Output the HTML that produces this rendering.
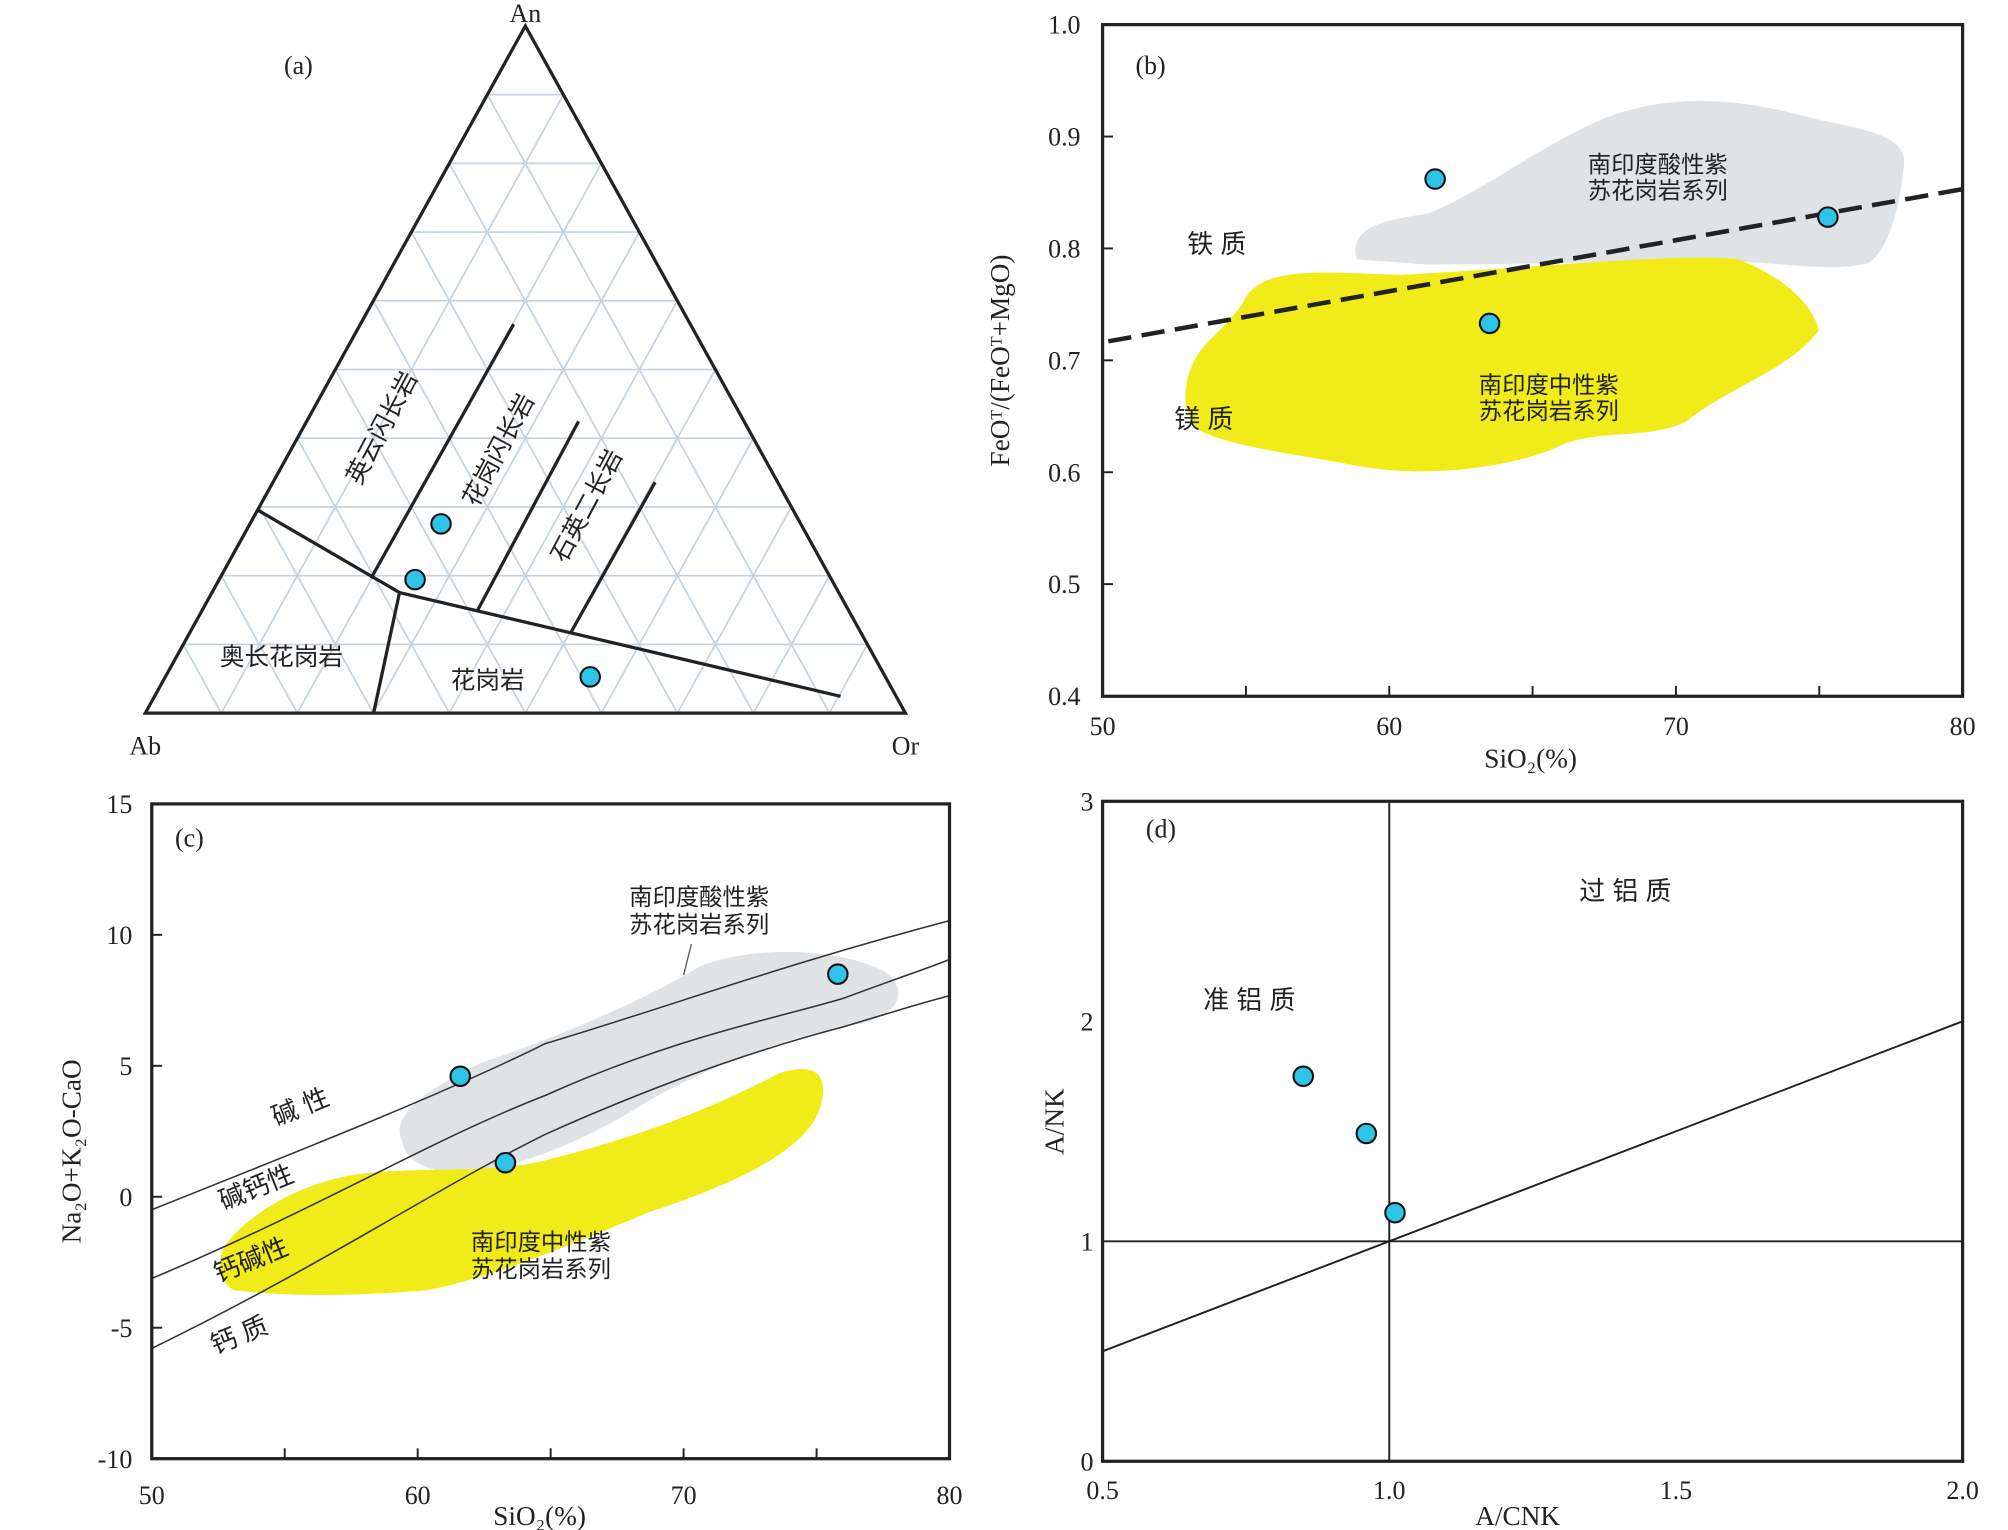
<!DOCTYPE html>
<html><head><meta charset="utf-8"><style>
html,body{margin:0;padding:0;background:#fff;}
svg{display:block;}
text{font-family:"Liberation Serif","Noto Serif CJK SC",serif;fill:#222;}
.cn{font-family:"Liberation Sans","Noto Sans CJK SC",sans-serif;}
</style></head><body>
<svg id="chart" width="2008" height="1530" viewBox="0 0 1548 1180" preserveAspectRatio="none" xmlns="http://www.w3.org/2000/svg">
<g id="pa"></g>
<g id="pb"></g>
<g id="pc"></g>
<g id="pd"></g>
</svg>
<script>
// ---- data ----
const bXTicks=[50,60,70,80];
const bYTicks=[0.4,0.5,0.6,0.7,0.8,0.9,1.0];
const bSiO2=[61.6,63.5,75.3];
const bFe=[0.862,0.733,0.828];
const bLineX=[50.2,80];
const bLineY=[0.717,0.853];
const cXTicks=[50,60,70,80];
const cYTicks=[-10,-5,0,5,10,15];
const cSiO2=[61.6,63.3,75.8];
const cMALI=[4.6,1.3,8.5];
const dXTicks=[0.5,1.0,1.5,2.0];
const dYTicks=[0,1,2,3];
const dACNK=[0.85,0.96,1.01];
const dANK=[1.75,1.49,1.13];
const aPts=[[340,404],[320,447],[455,522]];

const NS="http://www.w3.org/2000/svg";
function mk(p,tag,at,name){const e=document.createElementNS(NS,tag);for(const k in at)e.setAttribute(k,at[k]);


p.appendChild(e);return e;}
function txt(p,x,y,s,size,name,anchor,cls,rot){const t=mk(p,'text',{x:x,y:y,'font-size':size,'text-anchor':anchor||'middle'},name);if(cls)t.setAttribute('class',cls);if(rot)t.setAttribute('transform','rotate('+rot+' '+x+' '+y+')');t.textContent=s;return t;}
function dot(p,x,y,name){mk(p,'circle',{cx:x,cy:y,r:7.5,fill:'#2ec4e8',stroke:'#111','stroke-width':1.6},name);}

// ---- panel a ----
const A=document.getElementById('pa');
const Ab=[112,550],Or=[698,550],An=[405,20];
function tp(a,b,c){return [a*Ab[0]+b*Or[0]+c*An[0],a*Ab[1]+b*Or[1]+c*An[1]];}
for(let i=1;i<10;i++){const f=i/10;
 let p=tp(1-f,0,f),q=tp(0,1-f,f);mk(A,'line',{x1:p[0],y1:p[1],x2:q[0],y2:q[1],stroke:'#c3d2de','stroke-width':1.3},'grid-line');
 p=tp(f,0,1-f);q=tp(f,1-f,0);mk(A,'line',{x1:p[0],y1:p[1],x2:q[0],y2:q[1],stroke:'#c3d2de','stroke-width':1.3},'grid-line');
 p=tp(0,f,1-f);q=tp(1-f,f,0);mk(A,'line',{x1:p[0],y1:p[1],x2:q[0],y2:q[1],stroke:'#c3d2de','stroke-width':1.3},'grid-line');}
mk(A,'polygon',{points:Ab.join(',')+' '+Or.join(',')+' '+An.join(','),fill:'none',stroke:'#222','stroke-width':2.5},'triangle-outline');
[[[198,393],[308,457],[648,537]],[[308,457],[288,550]],[[286,446],[396,250]],[[368,471],[446,325]],[[440,488],[505,372]]].forEach(l=>{
 mk(A,'polyline',{points:l.map(p=>p.join(',')).join(' '),fill:'none',stroke:'#222','stroke-width':2.5},'field-boundary');});
aPts.forEach(p=>dot(A,p[0],p[1],'sample-point'));
txt(A,405,17,'An',20,'apex-an');txt(A,112,582,'Ab',20,'apex-ab');txt(A,698,582,'Or',20,'apex-or');
txt(A,230,57,'(a)',20,'panel-label-a');
txt(A,300,333,'英云闪长岩',19,'field-tonalite','middle','cn',-62);
txt(A,390,350,'花岗闪长岩',19,'field-granodiorite','middle','cn',-62);
txt(A,458,393,'石英二长岩',19,'field-qmonzonite','middle','cn',-62);
txt(A,217,513,'奥长花岗岩',19,'field-trondhjemite','middle','cn');
txt(A,376,531,'花岗岩',19,'field-granite','middle','cn');

// ---- panel b ----
const B=document.getElementById('pb');
const bx=v=>850+(v-50)*663/30, by=v=>19+(1-v)*863;
mk(B,'path',{d:'M1046,200 C1040,178 1060,170 1100,165 C1140,150 1190,110 1240,90 C1290,72 1340,75 1400,92 C1440,100 1468,105 1468,125 C1465,160 1455,195 1440,203 C1410,210 1380,203 1340,202 C1280,200 1200,204 1100,204 Z',fill:'#dfe3e6'},'acid-charnockite-field');
mk(B,'path',{d:'M960,230 C975,205 1020,210 1080,212 C1200,205 1300,195 1340,200 C1380,215 1400,240 1402,255 C1380,285 1330,300 1300,325 C1270,340 1230,330 1200,345 C1160,362 1100,368 1050,360 C1000,350 950,345 925,332 C905,315 915,280 930,265 C945,250 955,240 960,230 Z',fill:'#f2eb1a'},'intermediate-charnockite-field');
mk(B,'line',{x1:bx(bLineX[0]),y1:by(bLineY[0]),x2:bx(bLineX[1]),y2:by(bLineY[1]),stroke:'#222','stroke-width':3.5,'stroke-dasharray':'18,8'},'fe-mg-divider');
mk(B,'rect',{x:850,y:19,width:663,height:518,fill:'none',stroke:'#222','stroke-width':2.5},'plot-frame-b');
bXTicks.forEach(v=>txt(B,bx(v),567,String(v),20,'x-tick-b'));
for(let v=55;v<80;v+=5){mk(B,'line',{x1:bx(v),y1:537,x2:bx(v),y2:529,stroke:'#222','stroke-width':1.5},'x-tick-mark-b');}
bYTicks.forEach(v=>{txt(B,833,by(v)+7,v.toFixed(1),20,'y-tick-b','end');mk(B,'line',{x1:850,y1:by(v),x2:858,y2:by(v),stroke:'#222','stroke-width':1.5},'y-tick-mark-b');});
for(let i=0;i<3;i++)dot(B,bx(bSiO2[i]),by(bFe[i]),'sample-point-b');
txt(B,887,57,'(b)',20,'panel-label-b');
txt(B,1180,592,'SiO₂(%)',21,'x-axis-title-b');
txt(B,778,278,'FeOᵀ/(FeOᵀ+MgO)',21,'y-axis-title-b','middle','',-90);
txt(B,938,195,'铁  质',20,'label-ferroan','middle','cn');
txt(B,928,330,'镁  质',20,'label-magnesian','middle','cn');
txt(B,1278,133,'南印度酸性紫',18,'label-acid-1','middle','cn');
txt(B,1278,153,'苏花岗岩系列',18,'label-acid-2','middle','cn');
txt(B,1194,303,'南印度中性紫',18,'label-int-1','middle','cn');
txt(B,1194,323,'苏花岗岩系列',18,'label-int-2','middle','cn');

// ---- panel c ----
const C=document.getElementById('pc');
const cx=v=>117+(v-50)*615/30, cy=v=>620+(15-v)*505/25;
mk(C,'path',{d:'M310,880 C300,860 330,840 370,820 C430,800 500,770 540,745 C580,730 640,730 680,748 C705,765 690,785 660,790 C600,800 530,830 490,855 C450,880 400,900 360,905 C330,905 312,895 310,880 Z',fill:'#dfe3e6'},'acid-charnockite-field-c');
mk(C,'path',{d:'M178,955 C200,930 240,910 280,905 C330,900 380,905 420,895 C480,880 540,860 600,828 C630,818 640,830 632,855 C620,890 560,915 500,935 C440,960 380,985 330,995 C270,1000 220,1000 180,995 C165,985 168,965 178,955 Z',fill:'#f2eb1a'},'intermediate-charnockite-field-c');
mk(C,'path',{d:'M117,933 C250,880 350,840 420,805 C520,775 600,745 732,710',fill:'none',stroke:'#333','stroke-width':1.2},'alkali-boundary-line');
mk(C,'path',{d:'M117,986 C250,930 330,880 420,845 C520,800 600,785 650,770 C690,755 712,748 732,740',fill:'none',stroke:'#333','stroke-width':1.2},'alkali-boundary-line');
mk(C,'path',{d:'M117,1040 C250,975 330,920 420,875 C520,830 600,805 650,792 C690,780 712,773 732,768',fill:'none',stroke:'#333','stroke-width':1.2},'alkali-boundary-line');
mk(C,'line',{x1:527,y1:752,x2:533,y2:728,stroke:'#555','stroke-width':1},'leader-line');
mk(C,'rect',{x:117,y:620,width:615,height:505,fill:'none',stroke:'#222','stroke-width':2.5},'plot-frame-c');
cXTicks.forEach(v=>txt(C,cx(v),1160,String(v),20,'x-tick-c'));
for(let v=55;v<80;v+=5){mk(C,'line',{x1:cx(v),y1:1125,x2:cx(v),y2:1117,stroke:'#222','stroke-width':1.5},'x-tick-mark-c');}
cYTicks.forEach(v=>{txt(C,102,cy(v)+7,String(v),20,'y-tick-c','end');mk(C,'line',{x1:117,y1:cy(v),x2:125,y2:cy(v),stroke:'#222','stroke-width':1.5},'y-tick-mark-c');});
for(let i=0;i<3;i++)dot(C,cx(cSiO2[i]),cy(cMALI[i]),'sample-point-c');
txt(C,146,653,'(c)',20,'panel-label-c');
txt(C,416,1176,'SiO₂(%)',21,'x-axis-title-c');
txt(C,62,888,'Na₂O+K₂O-CaO',21,'y-axis-title-c','middle','',-90);
txt(C,234,860,'碱  性',20,'label-alkalic','middle','cn',-22);
txt(C,200,922,'碱钙性',20,'label-alkali-calcic','middle','cn',-22);
txt(C,196,978,'钙碱性',20,'label-calc-alkalic','middle','cn',-22);
txt(C,187,1036,'钙  质',20,'label-calcic','middle','cn',-22);
txt(C,539,698,'南印度酸性紫',18,'label-acid-c1','middle','cn');
txt(C,539,719,'苏花岗岩系列',18,'label-acid-c2','middle','cn');
txt(C,417,964,'南印度中性紫',18,'label-int-c1','middle','cn');
txt(C,417,985,'苏花岗岩系列',18,'label-int-c2','middle','cn');

// ---- panel d ----
const D=document.getElementById('pd');
const dx=v=>850+(v-0.5)*663/1.5, dy=v=>1127-v*509/3;
mk(D,'line',{x1:dx(1),y1:618,x2:dx(1),y2:1127,stroke:'#222','stroke-width':1.5},'acnk-1-line');
mk(D,'line',{x1:850,y1:dy(1),x2:1513,y2:dy(1),stroke:'#222','stroke-width':1.5},'ank-1-line');
mk(D,'line',{x1:dx(0.5),y1:dy(0.5),x2:dx(2),y2:dy(2),stroke:'#222','stroke-width':1.5},'diagonal-line');
mk(D,'rect',{x:850,y:618,width:663,height:509,fill:'none',stroke:'#222','stroke-width':2.5},'plot-frame-d');
dXTicks.forEach(v=>txt(D,dx(v),1156,v.toFixed(1),20,'x-tick-d'));
dYTicks.forEach(v=>txt(D,843,dy(v)+7,String(v),20,'y-tick-d','end'));
for(let i=0;i<3;i++)dot(D,dx(dACNK[i]),dy(dANK[i]),'sample-point-d');
txt(D,895,646,'(d)',20,'panel-label-d');
txt(D,1170,1176,'A/CNK',21,'x-axis-title-d');
txt(D,820,865,'A/NK',21,'y-axis-title-d','middle','',-90);
txt(D,1253,694,'过 铝 质',20,'label-peraluminous','middle','cn');
txt(D,963,778,'准 铝 质',20,'label-metaluminous','middle','cn');
</script>
</body></html>
